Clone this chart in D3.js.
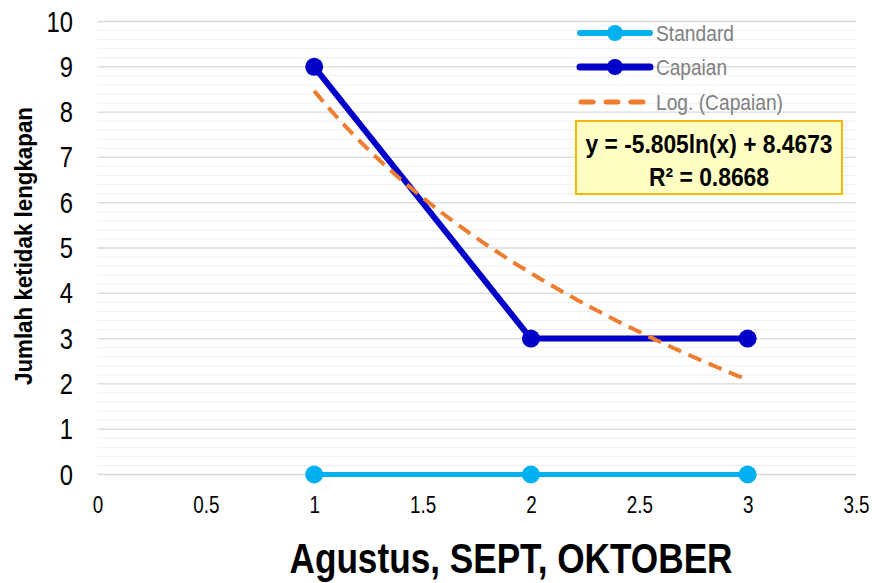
<!DOCTYPE html>
<html><head><meta charset="utf-8">
<script src="https://cdn.jsdelivr.net/npm/d3@7"></script>
<style>body{margin:0;background:#fff}svg{display:block}</style>
</head><body>
<svg id="c" width="872" height="583"></svg>
<script>
const xValues = [1, 2, 3];
const standard = [0, 0, 0];
const capaian = [9, 3, 3];
const xTicks = [0, 0.5, 1, 1.5, 2, 2.5, 3, 3.5];
const yTicks = [0,1,2,3,4,5,6,7,8,9,10];
const seriesNames = ["Standard", "Capaian", "Log. (Capaian)"];
const equationText = ["y = -5.805ln(x) + 8.4673", "R² = 0.8668"];
const xTitle = "Agustus, SEPT, OKTOBER";
const yTitle = "Jumlah ketidak lengkapan";

const FONT = "'Liberation Sans Narrow','Arial Narrow','Liberation Sans',Arial,sans-serif";
const NARROW = 0.82;
const svg = d3.select("#c");
const x = d3.scaleLinear().domain([0, 3.5]).range([97.5, 856]);
const y = d3.scaleLinear().domain([0, 10]).range([474.5, 21.5]);

// minor gridlines
const minor = d3.range(0, 50).map(i => i * 0.2).filter(v => Math.abs(v - Math.round(v)) > 1e-6);
svg.append("g").selectAll("line").data(minor).join("line")
  .attr("x1", x(0)).attr("x2", x(3.5))
  .attr("y1", d => y(d)).attr("y2", d => y(d))
  .attr("stroke", "#efefef").attr("stroke-width", 1);
// major gridlines
svg.append("g").selectAll("line").data(yTicks).join("line")
  .attr("x1", x(0)).attr("x2", x(3.5))
  .attr("y1", d => y(d)).attr("y2", d => y(d))
  .attr("stroke", "#d9d9d9").attr("stroke-width", 1.3);

// y axis labels
const yAxis = d3.axisLeft(y).tickValues(yTicks).tickSize(0).tickPadding(0).tickFormat(d3.format("d"));
const gy = svg.append("g").attr("transform", "translate(73,0)").call(yAxis);
gy.select(".domain").remove();
gy.selectAll("text").attr("font-family", FONT).attr("font-size", 29).attr("fill", "#000")
  .attr("x", 0).attr("dy", "0.33em").attr("transform", `scale(${NARROW},1)`);

// x axis labels
const xAxis = d3.axisBottom(x).tickValues(xTicks).tickSize(0).tickPadding(0).tickFormat(d => d3.format("")(d));
const gx = svg.append("g").attr("transform", "translate(0,513)").call(xAxis);
gx.select(".domain").remove();
gx.selectAll("text").attr("font-family", FONT).attr("font-size", 23).attr("fill", "#000")
  .attr("y", 0).attr("dy", 0).attr("transform", `scale(${NARROW},1)`);

// titles
svg.append("text").attr("x", 511).attr("y", 573).attr("text-anchor", "middle")
  .attr("font-family", FONT).attr("font-weight", "bold").attr("font-size", 42)
  .attr("textLength", 443).attr("lengthAdjust", "spacingAndGlyphs").text(xTitle);
svg.append("text").attr("transform", "translate(32,246) rotate(-90)").attr("text-anchor", "middle")
  .attr("font-family", FONT).attr("font-weight", "bold").attr("font-size", 23)
  .attr("textLength", 278).attr("lengthAdjust", "spacingAndGlyphs").text(yTitle);

// log trend computed from capaian data
const lx = xValues.map(Math.log);
const mx = d3.mean(lx), my = d3.mean(capaian);
const slope = d3.sum(lx.map((v, i) => (v - mx) * (capaian[i] - my))) / d3.sum(lx.map(v => (v - mx) ** 2));
const intercept = my - slope * mx;
const trendPts = d3.range(0, 101).map(i => { const xv = 1 + i * 0.02; return [xv, slope * Math.log(xv) + intercept]; });

const line = d3.line().x(d => x(d[0])).y(d => y(d[1]));
function drawSeries(vals, color, w) {
  const pts = xValues.map((v, i) => [v, vals[i]]);
  svg.append("path").attr("d", line(pts)).attr("fill", "none").attr("stroke", color).attr("stroke-width", w).attr("stroke-linejoin", "round");
  svg.append("g").selectAll("circle").data(pts).join("circle")
    .attr("cx", d => x(d[0])).attr("cy", d => y(d[1])).attr("r", 9).attr("fill", color);
}
drawSeries(standard, "#00b0f0", 5);
drawSeries(capaian, "#0000c8", 6);
svg.append("path").attr("d", line(trendPts)).attr("fill", "none").attr("stroke", "#ed7d31")
  .attr("stroke-width", 4).attr("stroke-dasharray", "14,8");

// legend
const leg = svg.append("g");
const legColors = ["#00b0f0", "#0000c8", "#ed7d31"];
const legY = [33, 67, 102];
const legLen = [78, 71, 127];
seriesNames.forEach((n, i) => {
  if (i < 2) {
    leg.append("line").attr("x1", 580).attr("x2", 650).attr("y1", legY[i]).attr("y2", legY[i])
      .attr("stroke", legColors[i]).attr("stroke-width", i === 0 ? 6 : 7).attr("stroke-linecap", "round");
    leg.append("circle").attr("cx", 615).attr("cy", legY[i]).attr("r", 8).attr("fill", legColors[i]);
  } else {
    leg.append("line").attr("x1", 581).attr("x2", 650).attr("y1", legY[i]).attr("y2", legY[i])
      .attr("stroke", legColors[i]).attr("stroke-width", 5).attr("stroke-linecap", "round").attr("stroke-dasharray", "12,13");
  }
  leg.append("text").attr("x", 656).attr("y", legY[i]).attr("dy", "0.35em")
    .attr("font-family", FONT).attr("font-size", 22).attr("fill", "#7f7f7f")
    .attr("textLength", legLen[i]).attr("lengthAdjust", "spacingAndGlyphs").text(n);
});

// equation box
svg.append("rect").attr("x", 576).attr("y", 121).attr("width", 266).attr("height", 73)
  .attr("fill", "#ffffc4").attr("stroke", "#f5b800").attr("stroke-width", 2);
const eqLen = [247, 120];
equationText.forEach((t, i) => {
  svg.append("text").attr("x", 709).attr("y", 144 + i * 33).attr("dy", "0.35em").attr("text-anchor", "middle")
    .attr("font-family", FONT).attr("font-weight", "bold").attr("font-size", 25).attr("fill", "#000")
    .attr("textLength", eqLen[i]).attr("lengthAdjust", "spacingAndGlyphs").text(t);
});
</script>
</body></html>
